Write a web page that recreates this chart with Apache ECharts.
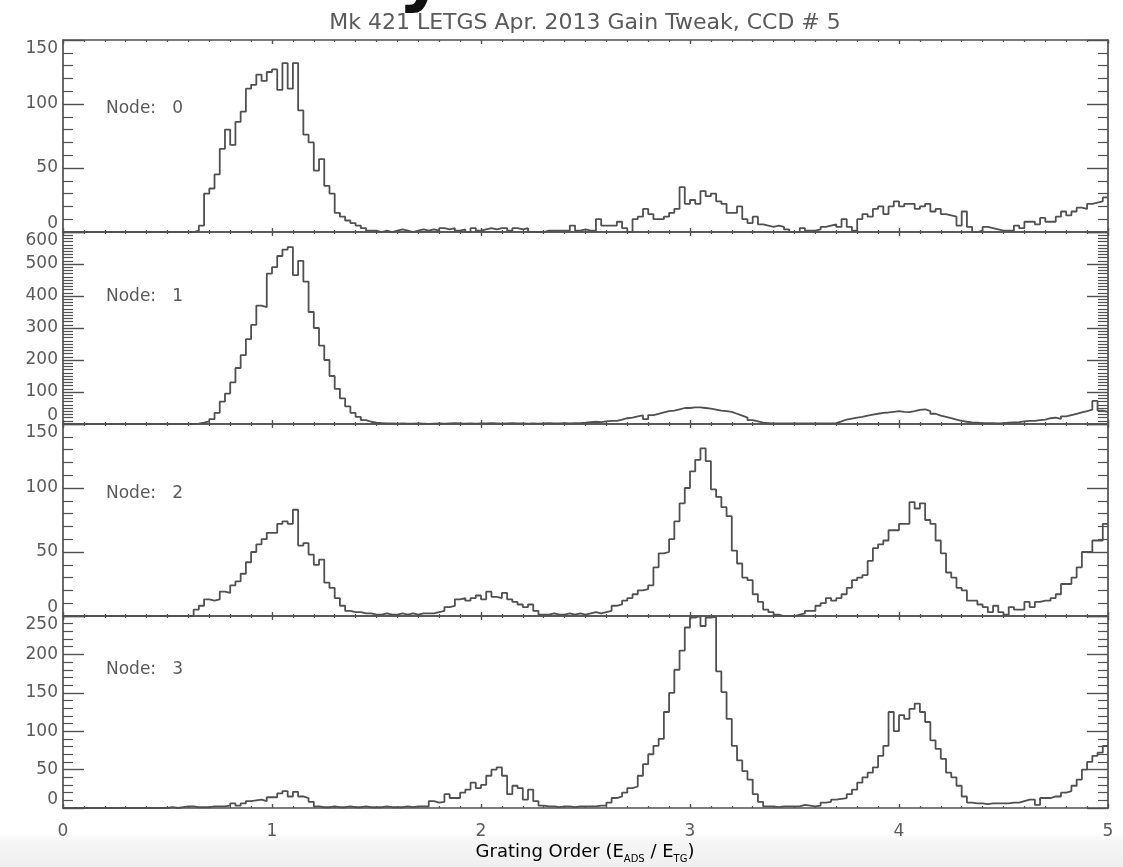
<!DOCTYPE html>
<html>
<head>
<meta charset="utf-8">
<script src="https://cdn.jsdelivr.net/npm/echarts@6/dist/echarts.min.js"></script>
<style>
  html, body { margin: 0; padding: 0; background: #fff; }
  #chart { width: 1123px; height: 867px; }
</style>
</head>
<body>
<div id="chart"></div>
<script>
// histogram counts, bins of 0.025 in grating order from 0 to 5
var BIN = 0.025;
var nodeNames = ['Node:   0', 'Node:   1', 'Node:   2', 'Node:   3'];
var xTicks = [0, 1, 2, 3, 4, 5];
var yMax = [150, 600, 150, 250];
var yStep = [50, 100, 50, 50];
var yMinor = [5, 10, 5, 5];

var node0 = [
  0,0,0,0,0,0,0,0,0,0,
  0,0,0,0,0,0,0,0,0,0,
  0,0,0,0,0,1,5,30,34,45,
  65,80,68,86,94,112,115,123,118,125,
  127,111,132,112,132,95,76,70,48,57,
  36,30,15,12,9,7,5,3,1,1,
  0,1,0,1,2,1,0,1,2,1,
  2,1,3,2,3,1,2,0,3,1,
  2,3,2,3,3,1,3,2,3,0,
  0,0,1,1,1,1,1,5,1,2,
  1,1,10,5,5,5,8,3,0,10,
  12,18,14,10,10,12,15,18,35,22,
  25,22,32,28,30,24,22,15,15,20,
  10,7,12,6,5,4,5,4,2,0,
  0,3,1,1,2,4,5,6,4,10,
  4,1,10,14,12,18,20,14,20,24,
  20,22,22,18,20,22,16,18,14,13,
  12,5,16,4,0,1,4,3,2,1,
  1,1,5,3,8,8,6,11,8,8,
  12,16,13,16,19,18,22,23,24,27
];

var node1 = [
  0,0,0,0,0,0,0,0,0,0,
  0,0,0,0,0,0,0,0,0,0,
  0,0,0,0,0,1,4,8,15,35,
  70,95,130,175,215,265,310,370,365,470,
  490,525,545,553,465,510,445,350,300,245,
  200,150,110,80,55,35,22,12,7,4,
  3,2,2,1,2,1,1,2,1,0,
  1,2,1,2,3,2,1,2,1,2,
  2,3,2,1,2,3,2,2,1,2,
  1,2,3,2,2,3,2,3,3,4,
  6,7,6,8,10,10,14,18,20,24,
  27,15,28,32,36,40,42,46,50,50,
  52,52,50,48,45,42,40,38,32,26,
  20,12,8,4,3,2,2,2,2,2,
  2,2,2,2,2,2,2,3,8,14,
  17,20,22,26,29,32,35,36,38,40,
  38,37,40,44,46,40,32,26,22,18,
  14,10,7,5,4,3,3,3,2,3,
  4,5,6,8,10,10,12,14,18,20,
  16,24,28,32,36,40,45,72,42,38
];

var node2 = [
  0,0,0,0,0,0,0,0,0,0,
  0,0,0,0,0,0,0,0,0,0,
  0,0,0,0,0,5,8,13,12,13,
  19,18,24,27,33,42,50,56,60,65,
  65,72,74,72,83,55,57,48,40,44,
  26,22,14,8,4,3,3,2,2,1,
  1,2,1,1,2,1,2,1,2,2,
  2,3,4,7,8,13,14,12,14,16,
  13,19,15,14,18,13,11,9,7,9,
  4,1,1,2,1,1,2,1,2,1,
  2,3,2,3,4,8,9,12,14,17,
  20,21,24,38,49,50,60,74,88,100,
  113,122,131,121,99,93,85,78,51,41,
  30,28,17,11,5,3,1,0,0,0,
  1,2,4,4,8,10,14,12,14,17,
  22,28,30,32,43,53,56,59,67,67,
  72,72,89,84,88,75,72,59,49,34,
  30,22,20,12,12,9,7,3,8,3,
  1,7,5,5,11,7,11,12,12,14,
  17,25,25,30,38,50,50,59,59,72
];

var node3 = [
  0,0,0,0,0,0,0,0,0,0,
  0,0,0,0,0,0,0,0,0,0,
  1,0,1,2,2,1,1,1,2,2,
  2,3,6,3,6,9,10,11,9,14,
  14,19,22,15,21,15,13,8,2,1,
  1,2,1,1,2,1,1,2,1,1,
  1,2,1,1,1,2,1,2,2,2,
  9,7,8,18,13,13,20,24,33,26,
  30,42,50,53,42,18,29,26,11,24,
  9,3,2,2,1,2,2,1,2,2,
  2,2,3,3,7,13,15,20,26,28,
  42,57,70,81,90,125,150,180,205,235,
  248,250,237,248,249,178,151,116,81,62,
  48,37,18,8,2,2,1,2,2,2,
  2,4,3,2,3,7,8,11,12,13,
  18,24,33,40,46,53,68,81,125,100,
  121,116,129,136,125,112,88,77,64,46,
  40,29,15,7,6,6,5,6,6,6,
  6,7,7,9,11,11,4,13,13,15,
  15,20,22,29,37,50,60,68,72,81
];

var nodes = [node0, node1, node2, node3];

var LINE = '#505050';
var TEXT = '#5a5a5a';
var FONT = 'DejaVu Sans';
var tops = [40, 232, 424, 616];
var panelH = 192;

function stepData(vals) {
  var pts = vals.map(function(v, i) { return [+(i * BIN).toFixed(3), v]; });
  pts.push([5, vals[vals.length - 1]]);
  return pts;
}

function xAxisFor(g, pos, withLabels) {
  return {
    type: 'value', gridIndex: g, position: pos,
    min: xTicks[0], max: xTicks[xTicks.length - 1], interval: 1,
    axisLine: { show: true, onZero: false, lineStyle: { color: LINE, width: 1.7 } },
    axisTick: { show: true, inside: true, length: 4, lineStyle: { color: LINE, width: 1.4 } },
    minorTick: { show: true, splitNumber: 10, length: 2, lineStyle: { color: LINE, width: 1.2 } },
    splitLine: { show: false },
    axisLabel: { show: withLabels, color: TEXT, fontFamily: FONT, fontSize: 17, margin: 15 }
  };
}

function yAxisFor(g, pos, withLabels) {
  return {
    type: 'value', gridIndex: g, position: pos,
    min: 0, max: yMax[g], interval: yStep[g],
    axisLine: { show: true, onZero: false, lineStyle: { color: LINE, width: 1.7 } },
    axisTick: { show: true, inside: true, length: 21, lineStyle: { color: LINE, width: 1.4 } },
    minorTick: { show: true, splitNumber: yMinor[g], length: 10, lineStyle: { color: LINE, width: 1.2 } },
    splitLine: { show: false },
    axisLabel: {
      show: withLabels, color: TEXT, fontFamily: FONT, fontSize: 17, margin: 5,
      verticalAlignMinLabel: 'bottom', verticalAlignMaxLabel: 'top'
    }
  };
}

var grids = [], xAxes = [], yAxes = [], series = [], labels = [];
for (var g = 0; g < 4; g++) {
  grids.push({ left: 63, right: 15, top: tops[g], height: panelH, show: false });
  xAxes.push(xAxisFor(g, 'bottom', g === 3));
  xAxes.push(xAxisFor(g, 'top', false));
  yAxes.push(yAxisFor(g, 'left', true));
  yAxes.push(yAxisFor(g, 'right', false));
  series.push({
    type: 'line', step: 'end', xAxisIndex: g * 2, yAxisIndex: g * 2,
    data: stepData(nodes[g]), showSymbol: false, clip: true,
    lineStyle: { color: LINE, width: 1.8 }, animation: false
  });
}

var nodeY = [109, 297, 494, 670];
nodeNames.forEach(function(t, i) {
  labels.push({
    type: 'text', x: 106, y: nodeY[i],
    style: { text: t, fill: TEXT, font: '17px "' + FONT + '"', verticalAlign: 'middle' }
  });
});

var chart = echarts.init(document.getElementById('chart'));
chart.setOption({
  backgroundColor: '#ffffff',
  animation: false,
  grid: grids,
  xAxis: xAxes,
  yAxis: yAxes,
  series: series,
  graphic: [
    {
      type: 'rect', z: -10, shape: { x: 0, y: 832, width: 1123, height: 35 },
      style: { fill: new echarts.graphic.LinearGradient(0, 0, 0, 1, [
        { offset: 0, color: 'rgba(244,244,244,0)' },
        { offset: 0.3, color: '#f5f5f5' },
        { offset: 1, color: '#efefef' }
      ]) }
    },
    {
      type: 'text', x: 398, y: -21,
      style: { text: 'y', fill: '#111', font: 'bold 72px "DejaVu Sans"', verticalAlign: 'middle' }
    },
    {
      type: 'text', x: 585, y: 23,
      style: {
        text: 'Mk 421 LETGS Apr. 2013 Gain Tweak, CCD # 5', fill: TEXT,
        font: '22px "' + FONT + '"', align: 'center', verticalAlign: 'middle'
      }
    },
    {
      type: 'text', x: 585, y: 852,
      style: {
        text: '{a|Grating Order (E}{s|ADS}{a| / E}{s|TG}{a|)}',
        align: 'center', verticalAlign: 'middle',
        rich: {
          a: { fontFamily: FONT, fontSize: 18, color: TEXT, lineHeight: 24 },
          s: { fontFamily: FONT, fontSize: 10, color: TEXT, lineHeight: 8, verticalAlign: 'bottom' }
        }
      }
    }
  ].concat(labels)
});
</script>
</body>
</html>
